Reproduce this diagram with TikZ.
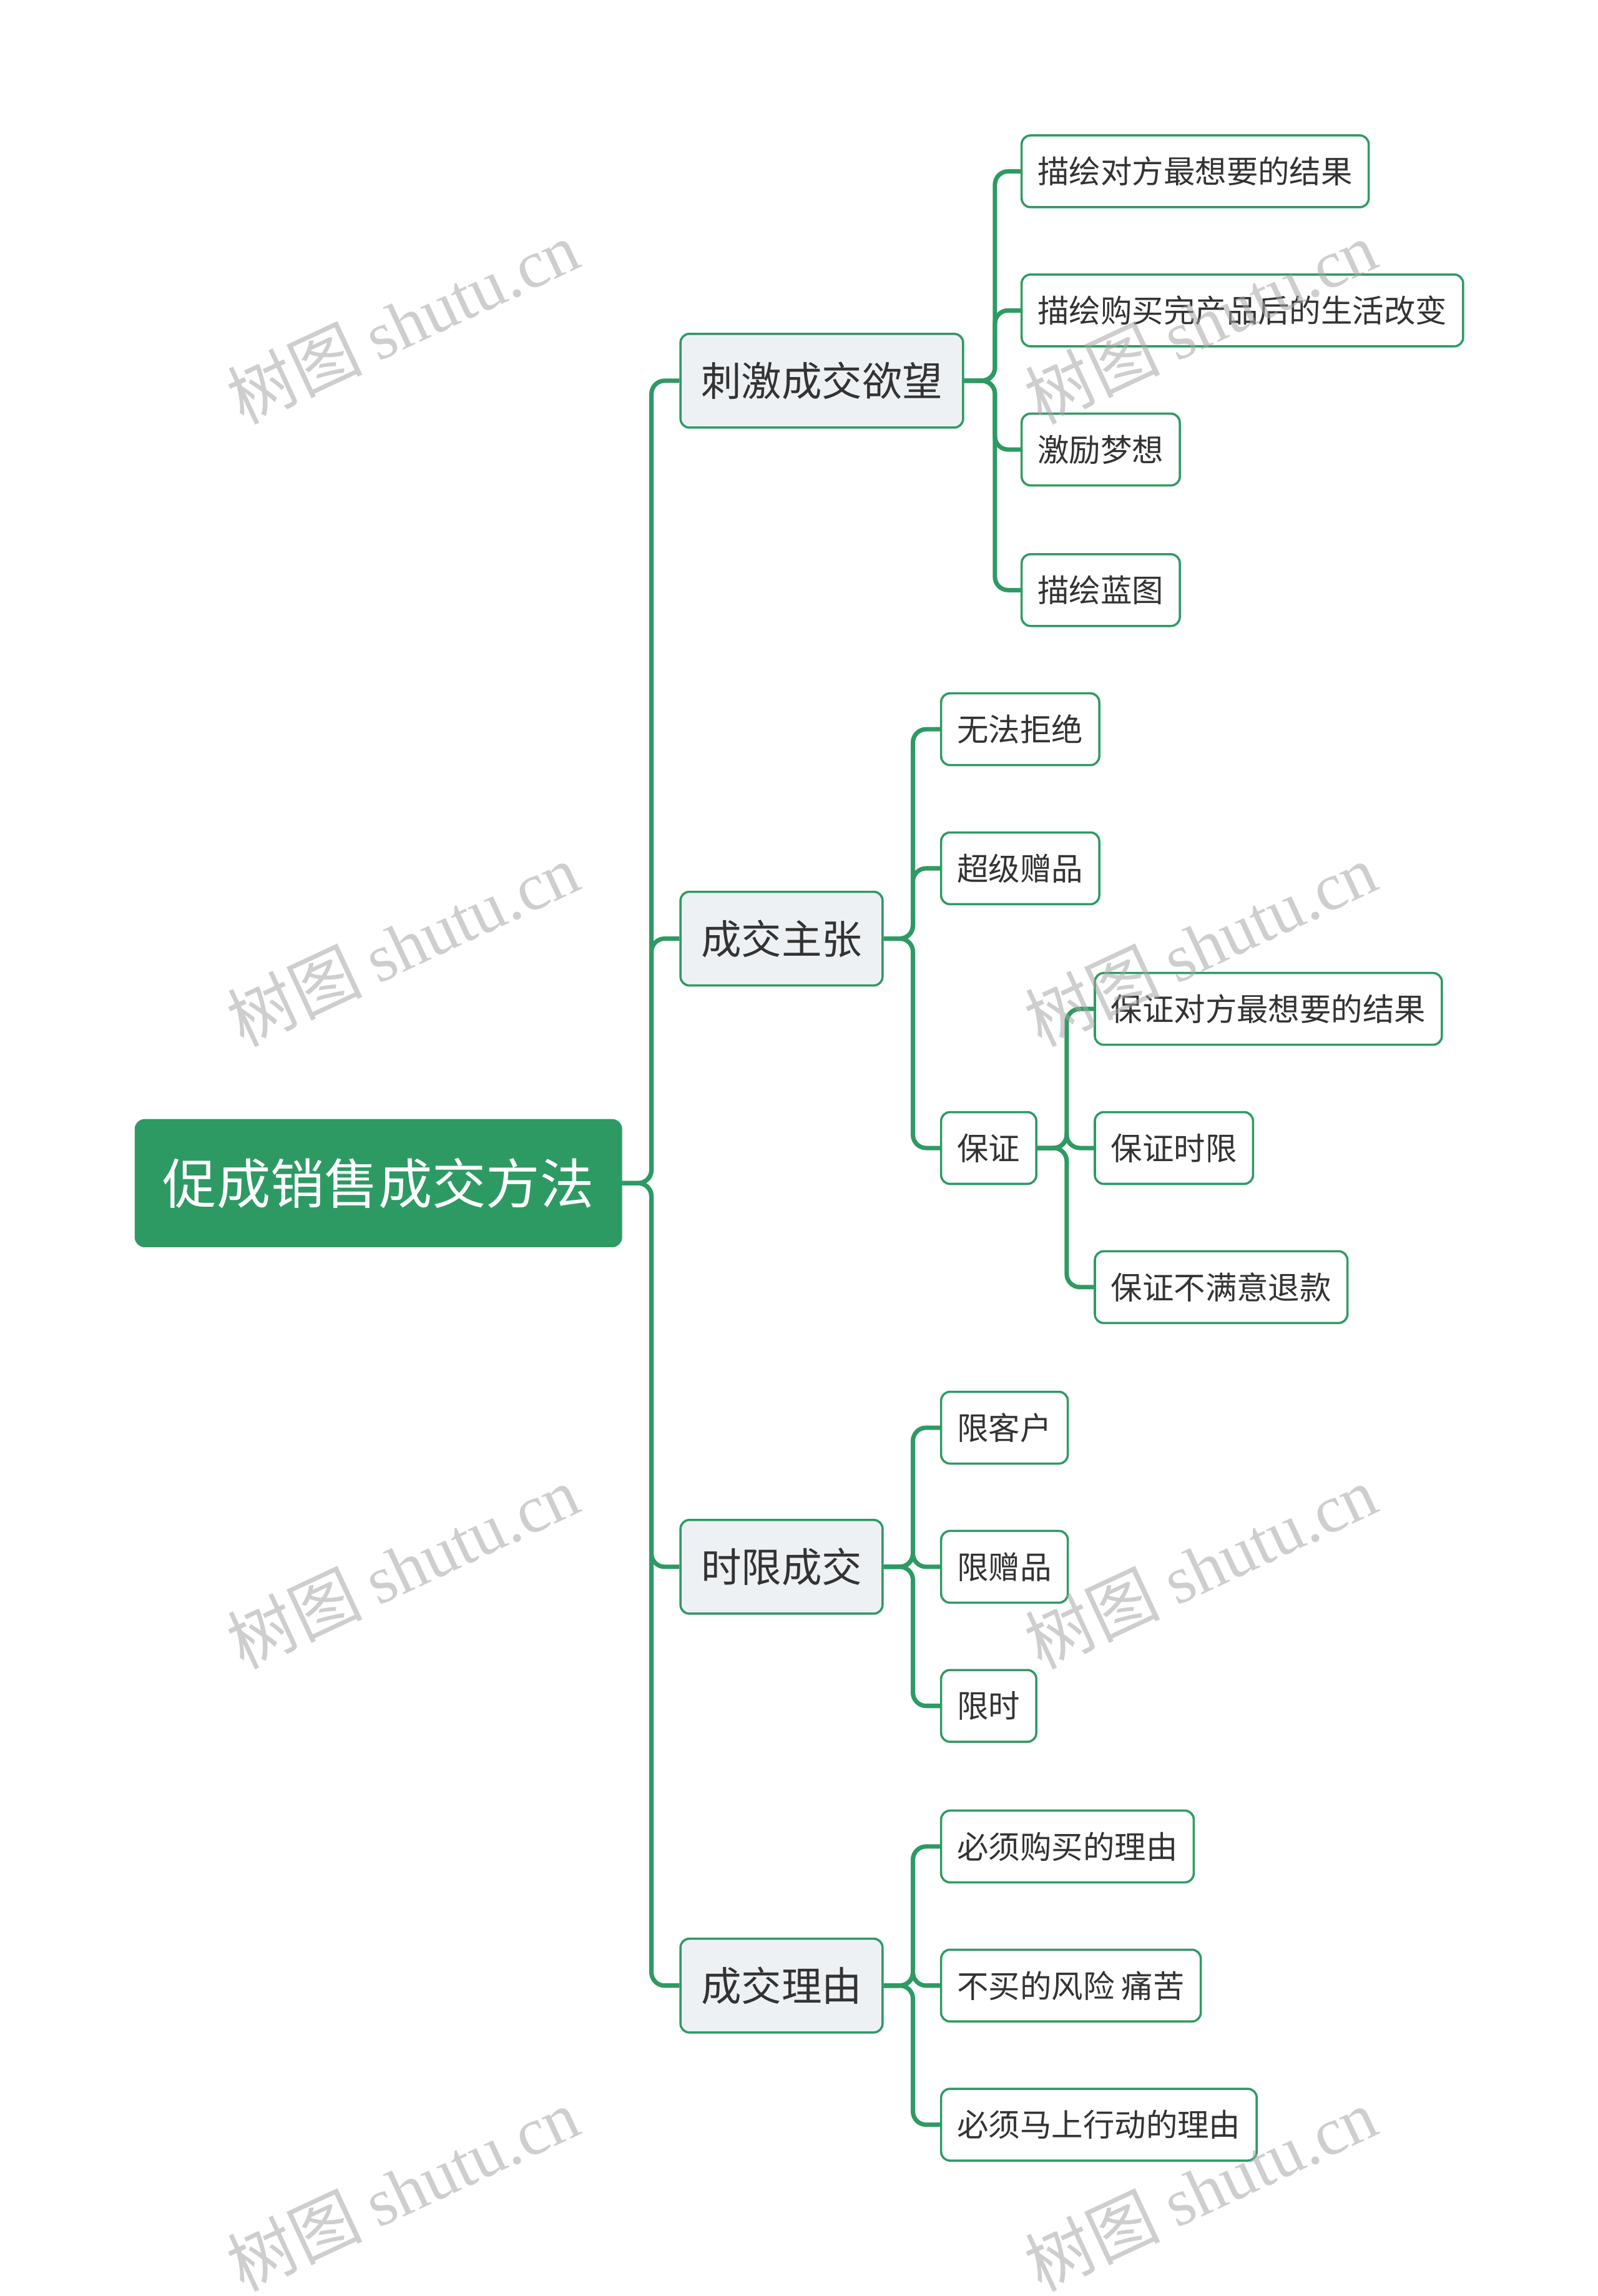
\documentclass[tikz,border=0pt]{standalone}
\usepackage{fontspec}
\setmainfont{Noto Sans CJK SC}
\newfontfamily\wmserif{Liberation Serif}
\usetikzlibrary{calc}
\definecolor{gr}{HTML}{2E9A63}
\definecolor{lg}{HTML}{EEF1F4}
\definecolor{tx}{HTML}{333333}
\tikzset{
  rootbox/.style={draw=gr,fill=gr,rounded corners=6pt,text=white,font=\fontsize{36.8}{40}\selectfont,minimum height=86pt,inner xsep=18.5pt,anchor=west,line width=1.5pt},
  midbox/.style={draw=gr,fill=lg,rounded corners=6pt,text=tx,font=\fontsize{27.5}{30}\selectfont,minimum height=64pt,inner xsep=14pt,anchor=west,line width=1.5pt},
  leafbox/.style={draw=gr,fill=white,rounded corners=6pt,text=tx,font=\fontsize{21.5}{24}\selectfont,minimum height=49pt,inner xsep=11pt,anchor=west,line width=1.5pt},
  conn/.style={draw=gr,line width=3pt,rounded corners=9pt},
  wm/.style={text=black!35,opacity=0.55,rotate=25,font=\fontsize{46}{50}\selectfont}
}
\begin{document}
\begin{tikzpicture}[x=1pt,y=-1pt]
\useasboundingbox (0,0) rectangle (1091,1568);
\node[rootbox] (r) at (92,808) {促成销售成交方法};
\node[midbox] (a) at (464,260) {刺激成交欲望};
\node[midbox] (b) at (464,641) {成交主张};
\node[midbox] (c) at (464,1070) {时限成交};
\node[midbox] (d) at (464,1356) {成交理由};
\node[leafbox] (a1) at (697,117) {描绘对方最想要的结果};
\node[leafbox] (a2) at (697,212) {描绘购买完产品后的生活改变};
\node[leafbox] (a3) at (697,307) {激励梦想};
\node[leafbox] (a4) at (697,403) {描绘蓝图};
\node[leafbox] (b1) at (642,498) {无法拒绝};
\node[leafbox] (b2) at (642,593) {超级赠品};
\node[leafbox] (b3) at (642,784) {保证};
\node[leafbox] (b31) at (747,689) {保证对方最想要的结果};
\node[leafbox] (b32) at (747,784) {保证时限};
\node[leafbox] (b33) at (747,879) {保证不满意退款};
\node[leafbox] (c1) at (642,975) {限客户};
\node[leafbox] (c2) at (642,1070) {限赠品};
\node[leafbox] (c3) at (642,1165) {限时};
\node[leafbox] (d1) at (642,1261) {必须购买的理由};
\node[leafbox] (d2) at (642,1356) {不买的风险 痛苦};
\node[leafbox] (d3) at (642,1451) {必须马上行动的理由};
\foreach \c in {a,b,c,d} \draw[conn] (r.east) -- ($(r.east)+(20,0)$) |- (\c.west);
\foreach \c in {a1,a2,a3,a4} \draw[conn] (a.east) -- ($(a.east)+(21,0)$) |- (\c.west);
\foreach \c in {b1,b2,b3} \draw[conn] (b.east) -- ($(b.east)+(20,0)$) |- (\c.west);
\foreach \c in {b31,b32,b33} \draw[conn] (b3.east) -- ($(b3.east)+(20,0)$) |- (\c.west);
\foreach \c in {c1,c2,c3} \draw[conn] (c.east) -- ($(c.east)+(20,0)$) |- (\c.west);
\foreach \c in {d1,d2,d3} \draw[conn] (d.east) -- ($(d.east)+(20,0)$) |- (\c.west);
\foreach \y [count=\i] in {220,645,1070,1495} {
  \node[wm] (wl\i) at (275,\y) {树图 {\wmserif shutu.cn}};
  \node[wm] (wr\i) at (820,\y) {树图 {\wmserif shutu.cn}};
}
\end{tikzpicture}
\end{document}
